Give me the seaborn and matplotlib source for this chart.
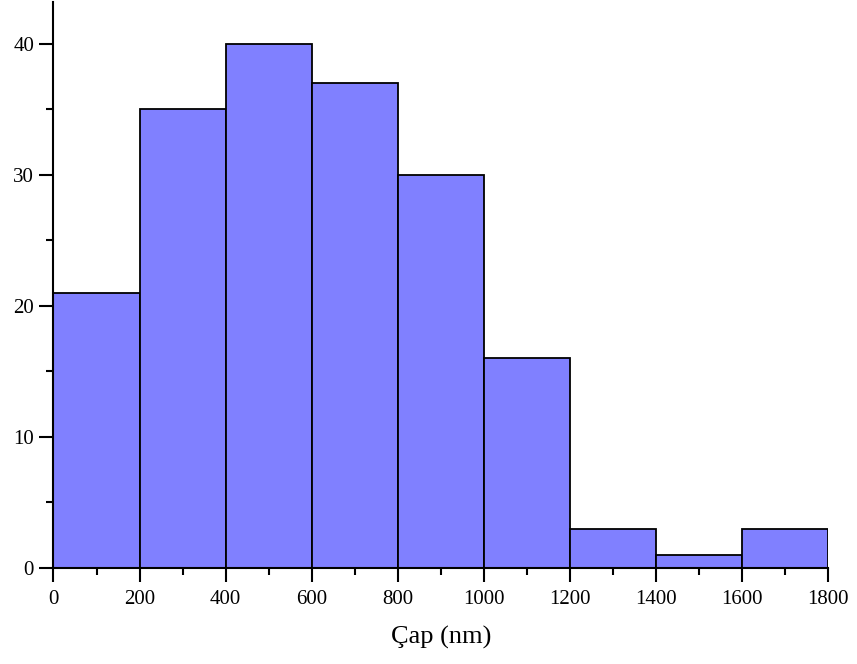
import matplotlib
matplotlib.use("Agg")
import matplotlib.pyplot as plt
from matplotlib.ticker import MultipleLocator
import seaborn as sns

# Diameter histogram: bin edges (nm) and counts per bin
bin_edges = [0, 200, 400, 600, 800, 1000, 1200, 1400, 1600, 1800]
counts = [21, 35, 40, 37, 30, 16, 3, 1, 3]
x_ticks = [0, 200, 400, 600, 800, 1000, 1200, 1400, 1600, 1800]
y_ticks = [0, 10, 20, 30, 40]
x_label = "Çap (nm)"

sns.set_theme(style="ticks")
plt.rcParams["font.family"] = ["Liberation Serif", "DejaVu Serif"]

fig = plt.figure(figsize=(8.57, 6.64), dpi=100)
ax = fig.add_axes([0.0624, 0.1446, 0.9038, 0.8524])

centers = [(a + b) / 2 for a, b in zip(bin_edges[:-1], bin_edges[1:])]
sns.histplot(x=centers, weights=counts, bins=bin_edges, ax=ax,
             color="#8080FF", alpha=1.0, edgecolor="black", linewidth=1.3)

ax.set_xlim(0, 1800)
ax.set_ylim(0, 43.2)
ax.set_xticks(x_ticks)
ax.set_yticks(y_ticks)
ax.xaxis.set_minor_locator(MultipleLocator(100))
ax.yaxis.set_minor_locator(MultipleLocator(5))
ax.tick_params(axis="both", which="major", direction="out", length=10,
               width=1.5, color="black", labelsize=15, labelcolor="black")
ax.tick_params(axis="both", which="minor", direction="out", length=5,
               width=1.5, color="black")
ax.tick_params(axis="x", which="major", pad=6)
ax.tick_params(axis="y", which="major", pad=4)

for side in ("top", "right"):
    ax.spines[side].set_visible(False)
for side in ("left", "bottom"):
    ax.spines[side].set_linewidth(1.5)
    ax.spines[side].set_color("black")

ax.set_xlabel(x_label, fontsize=19, color="black", labelpad=12)
ax.set_ylabel("")

fig.savefig("out.png", dpi=100, facecolor="white")
